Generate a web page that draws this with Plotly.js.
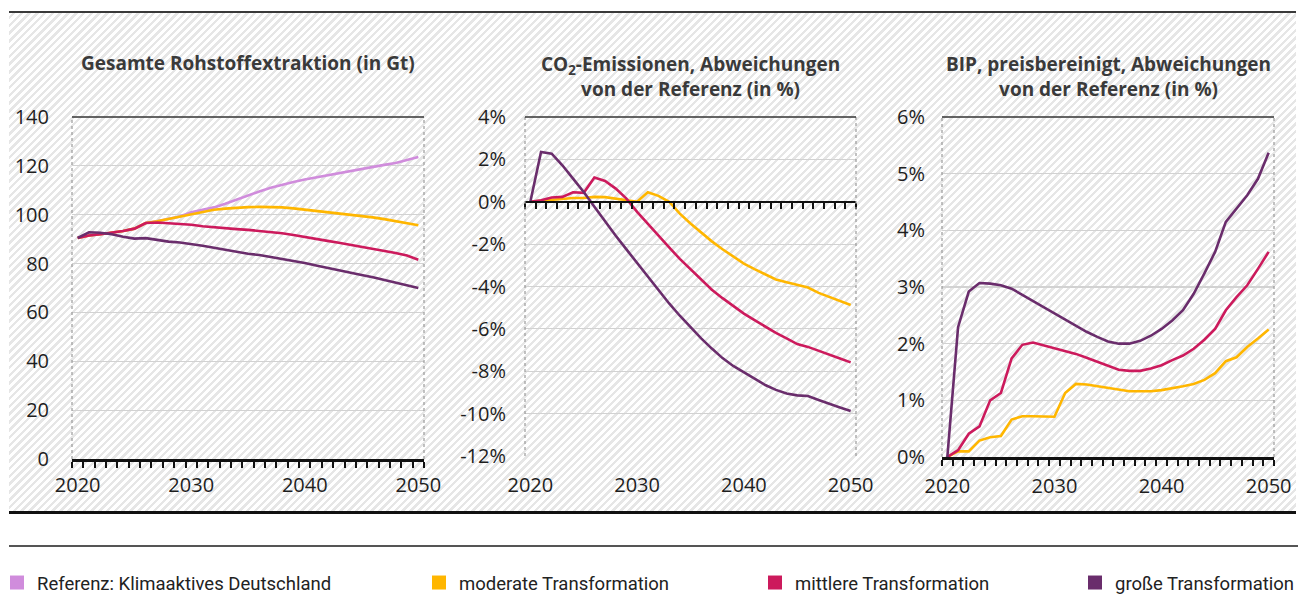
<!DOCTYPE html>
<html>
<head>
<meta charset="utf-8">
<script src="https://cdn.plot.ly/plotly-3.0.1.min.js"></script>
<style>
  html, body { margin: 0; padding: 0; background: #ffffff; overflow: hidden; }
  #wrap { position: relative; width: 1308px; height: 595px; }
  #hatch {
    position: absolute; left: 9px; top: 12px; width: 1287px; height: 500px;
    background: repeating-linear-gradient(135deg, #ffffff 0px, #ffffff 3px, #e6e6e6 3px, #e6e6e6 5.5px);
  }
  #chart { position: absolute; left: 0; top: 0; width: 1308px; height: 595px; }
</style>
</head>
<body>
<div id="wrap">
  <div id="hatch"></div>
  <div id="chart"></div>
</div>
<script>
// ---------- DATA ----------
const years = [2020,2021,2022,2023,2024,2025,2026,2027,2028,2029,2030,2031,2032,2033,2034,2035,2036,2037,2038,2039,2040,2041,2042,2043,2044,2045,2046,2047,2048,2049,2050];

const seriesNames = ["Referenz: Klimaaktives Deutschland", "moderate Transformation", "mittlere Transformation", "große Transformation"];
const seriesColors = ["#D08CDC", "#FFB600", "#CC1A5C", "#6A2D6C"];

// Panel 1: Gesamte Rohstoffextraktion (in Gt)
const rohReferenz = [90.5,91.5,92,92.6,93.3,94.3,96.6,97.3,98.2,99.3,101,102,103,104.5,106.2,108,109.5,111,112.3,113.4,114.4,115.3,116.2,117.1,118,118.8,119.6,120.4,121.2,122.3,123.6];
const rohModerat  = [90.5,91.5,92,92.6,93.3,94.3,96.6,97.3,98.2,99.2,100.2,101.2,102,102.5,102.9,103.1,103.2,103.2,103,102.6,102.1,101.6,101,100.5,100,99.5,98.9,98.2,97.4,96.6,95.7];
const rohMittel   = [90.5,91.5,92,92.6,93.3,94.3,96.6,96.8,96.6,96.3,95.9,95.3,94.8,94.4,94.1,93.8,93.4,93,92.4,91.7,91,90.1,89.3,88.5,87.7,86.9,86.1,85.2,84.3,83.3,81.6];
const rohGross    = [90.5,92.8,92.6,92,91,90.2,90.4,89.6,89,88.6,88.1,87.3,86.5,85.6,84.8,84,83.5,82.7,82,81.1,80.2,79.2,78.3,77.4,76.3,75.3,74.4,73.3,72.2,71.1,70];

// Panel 2: CO2-Emissionen, Abweichungen von der Referenz (in %)
const co2Moderat = [0,0.05,0.1,0.15,0.18,0.18,0.23,0.22,0.15,0.08,0,0.45,0.28,0,-0.56,-1.03,-1.45,-1.87,-2.24,-2.57,-2.92,-3.18,-3.44,-3.67,-3.8,-3.93,-4.05,-4.3,-4.5,-4.68,-4.87];
const co2Mittel  = [0,0.07,0.2,0.23,0.45,0.42,1.14,0.98,0.62,0.15,-0.48,-1.05,-1.6,-2.15,-2.7,-3.2,-3.7,-4.15,-4.55,-4.92,-5.28,-5.59,-5.9,-6.19,-6.45,-6.72,-6.85,-7.04,-7.24,-7.4,-7.58];
const co2Gross   = [0,2.35,2.27,1.72,1.09,0.46,-0.24,-0.95,-1.6,-2.25,-2.9,-3.55,-4.2,-4.8,-5.38,-5.92,-6.45,-6.93,-7.38,-7.75,-8.05,-8.35,-8.65,-8.88,-9.05,-9.14,-9.17,-9.36,-9.55,-9.71,-9.88];

// Panel 3: BIP, preisbereinigt, Abweichungen von der Referenz (in %)
const bipModerat = [0,0.1,0.1,0.29,0.35,0.37,0.66,0.72,0.72,0.71,0.71,1.13,1.29,1.28,1.25,1.22,1.19,1.16,1.16,1.16,1.18,1.21,1.25,1.29,1.36,1.48,1.69,1.76,1.94,2.09,2.25];
const bipMittel  = [0,0.12,0.41,0.54,1.0,1.13,1.74,1.98,2.02,1.97,1.93,1.88,1.82,1.75,1.68,1.61,1.54,1.52,1.52,1.56,1.62,1.71,1.79,1.91,2.07,2.26,2.59,2.82,3.03,3.32,3.62];
const bipGross   = [0,2.29,2.92,3.07,3.06,3.03,2.97,2.86,2.75,2.64,2.53,2.43,2.31,2.21,2.12,2.04,2.0,2.0,2.05,2.14,2.26,2.41,2.59,2.88,3.24,3.62,4.15,4.38,4.62,4.91,5.37];

// Tick labels
const xTickVals = [2020, 2030, 2040, 2050];
const xTickText = ["2020", "2030", "2040", "2050"];
const y1TickVals = [0,20,40,60,80,100,120,140];
const y1TickText = ["0","20","40","60","80","100","120","140"];
const y2TickVals = [-12,-10,-8,-6,-4,-2,0,2,4];
const y2TickText = ["-12%","-10%","-8%","-6%","-4%","-2%","0%","2%","4%"];
const y3TickVals = [0,1,2,3,4,5,6];
const y3TickText = ["0%","1%","2%","3%","4%","5%","6%"];

const titles = [
  "Gesamte Rohstoffextraktion (in Gt)",
  "CO<sub>2</sub>-Emissionen, Abweichungen<br>von der Referenz (in %)",
  "BIP, preisbereinigt, Abweichungen<br>von der Referenz (in %)"
];

// ---------- BUILD ----------
const W = 1308, H = 595;
const px = v => v / W;
const py = v => 1 - v / H;

// category boundaries (Excel-style ticks between categories)
const boundaries = years.map(y => y - 0.5).concat([years[years.length - 1] + 0.5]);
const xRange = [years[0] - 0.5, years[years.length - 1] + 0.5];

const tickFont = { family: "Open Sans, Noto Sans, sans-serif", size: 20, color: "#1e1e1e" };
const LW = 2.6;

const traces = [];
function line(x, y, color, xa, ya) {
  traces.push({ type: "scatter", mode: "lines", x: x, y: y, xaxis: xa, yaxis: ya,
    line: { color: color, width: LW }, showlegend: false, hoverinfo: "skip" });
}
// panel 1
line(years, rohReferenz, seriesColors[0], "x", "y");
line(years, rohModerat, seriesColors[1], "x", "y");
line(years, rohMittel, seriesColors[2], "x", "y");
line(years, rohGross, seriesColors[3], "x", "y");
// panel 2
line(years, co2Moderat, seriesColors[1], "x2", "y2");
line(years, co2Mittel, seriesColors[2], "x2", "y2");
line(years, co2Gross, seriesColors[3], "x2", "y2");
// panel 3
line(years, bipModerat, seriesColors[1], "x3", "y3");
line(years, bipMittel, seriesColors[2], "x3", "y3");
line(years, bipGross, seriesColors[3], "x3", "y3");

// legend entries (square swatches), one legend each
const legendNames = ["legend", "legend2", "legend3", "legend4"];
seriesNames.forEach((n, i) => {
  traces.push({ type: "scatter", mode: "markers", x: [null], y: [null], xaxis: "x", yaxis: "y",
    name: n, legend: legendNames[i], showlegend: true,
    marker: { symbol: "square", size: 14, color: seriesColors[i] } });
});

const dom = [
  { x: [px(72), px(424)],  y: [py(459), py(117)] },
  { x: [px(525), px(856)], y: [py(456), py(117)] },
  { x: [px(942), px(1274)], y: [py(457), py(117)] }
];
const zeroPos2 = dom[1].y[0] + (0 - (-12)) / (4 - (-12)) * (dom[1].y[1] - dom[1].y[0]);

function labelAxis(d, anchor, standoff) {
  return { domain: d.x, anchor: anchor, range: xRange, tickmode: "array", tickvals: xTickVals, ticktext: xTickText,
    showgrid: false, zeroline: false, showline: false, ticks: "", tickfont: tickFont, ticklabelstandoff: standoff, fixedrange: true };
}
function tickAxis(over, anchorOpt) {
  return Object.assign({ overlaying: over, range: xRange, tickmode: "array", tickvals: boundaries, showticklabels: false,
    ticks: "outside", ticklen: 6, tickwidth: 2, tickcolor: "#111", showline: true, linecolor: "#111", linewidth: 2.5,
    showgrid: false, zeroline: false, fixedrange: true }, anchorOpt);
}
function yAxis(d, anchor, range, tv, tt, standoff) {
  return { domain: d.y, anchor: anchor, range: range, tickmode: "array", tickvals: tv, ticktext: tt,
    showgrid: true, gridcolor: "#d2d2d2", gridwidth: 1.2, zeroline: false, showline: false, ticks: "",
    tickfont: tickFont, ticklabelstandoff: standoff, fixedrange: true };
}

const shapes = [];
const annotations = [];
[["x","y"],["x2","y2"],["x3","y3"]].forEach(([xa, ya], i) => {
  const xd = xa + " domain", yd = ya + " domain";
  shapes.push({ type: "line", xref: xd, yref: yd, x0: 0, x1: 0, y0: 0, y1: 1, line: { color: "#9a9a9a", width: 1.2, dash: "dot" } });
  shapes.push({ type: "line", xref: xd, yref: yd, x0: 1, x1: 1, y0: 0, y1: 1, line: { color: "#9a9a9a", width: 1.2, dash: "dot" } });
  shapes.push({ type: "line", xref: xd, yref: yd, x0: 0, x1: 1, y0: 1, y1: 1, line: { color: "#333333", width: 1.6 } });
  annotations.push({ text: titles[i], xref: xd, x: 0.5, xanchor: "center", yref: "paper",
    y: py(i === 0 ? 63 : 76), yanchor: "middle", showarrow: false, align: "center",
    font: { family: "Open Sans, Noto Sans, sans-serif", size: 19, color: "#3a3a3a", weight: 700 } });
});
// frame lines
shapes.push({ type: "line", xref: "paper", yref: "paper", x0: px(9), x1: px(1296), y0: py(12), y1: py(12), line: { color: "#3a3a3a", width: 2 } });
shapes.push({ type: "line", xref: "paper", yref: "paper", x0: px(9), x1: px(1296), y0: py(512.5), y1: py(512.5), line: { color: "#111111", width: 3 } });
shapes.push({ type: "line", xref: "paper", yref: "paper", x0: px(9), x1: px(1298), y0: py(546), y1: py(546), line: { color: "#555555", width: 2 } });

const legFont = { family: "Roboto, sans-serif", size: 18.5, color: "#222" };
const legX = [-3, 419, 755, 1075];
function leg(i) {
  return { x: px(legX[i]), xanchor: "left", y: py(583), yanchor: "middle", orientation: "h",
    bgcolor: "rgba(0,0,0,0)", font: legFont, itemclick: false, itemdoubleclick: false, itemwidth: 30 };
}

const layout = {
  width: W, height: H,
  margin: { l: 0, r: 0, t: 0, b: 0, autoexpand: false },
  paper_bgcolor: "rgba(0,0,0,0)", plot_bgcolor: "rgba(0,0,0,0)",
  showlegend: true,
  xaxis: labelAxis(dom[0], "y", 12),
  yaxis: yAxis(dom[0], "x", [0, 140], y1TickVals, y1TickText, 22),
  xaxis2: labelAxis(dom[1], "y2", 15),
  yaxis2: yAxis(dom[1], "x2", [-12, 4], y2TickVals, y2TickText, 18),
  xaxis3: labelAxis(dom[2], "y3", 15),
  yaxis3: yAxis(dom[2], "x3", [0, 6], y3TickVals, y3TickText, 16),
  xaxis4: tickAxis("x", { anchor: "y" }),
  xaxis5: tickAxis("x2", { anchor: "free", position: zeroPos2 }),
  xaxis6: tickAxis("x3", { anchor: "y3" }),
  shapes: shapes,
  annotations: annotations,
  legend: leg(0), legend2: leg(1), legend3: leg(2), legend4: leg(3)
};

// placeholder traces so the overlay tick axes are drawn
traces.push({ type: "scatter", mode: "lines", x: [null], y: [null], xaxis: "x4", yaxis: "y", showlegend: false, hoverinfo: "skip" });
traces.push({ type: "scatter", mode: "lines", x: [null], y: [null], xaxis: "x5", yaxis: "y2", showlegend: false, hoverinfo: "skip" });
traces.push({ type: "scatter", mode: "lines", x: [null], y: [null], xaxis: "x6", yaxis: "y3", showlegend: false, hoverinfo: "skip" });

Plotly.newPlot("chart", traces, layout, { displayModeBar: false, staticPlot: true });
</script>
</body>
</html>
